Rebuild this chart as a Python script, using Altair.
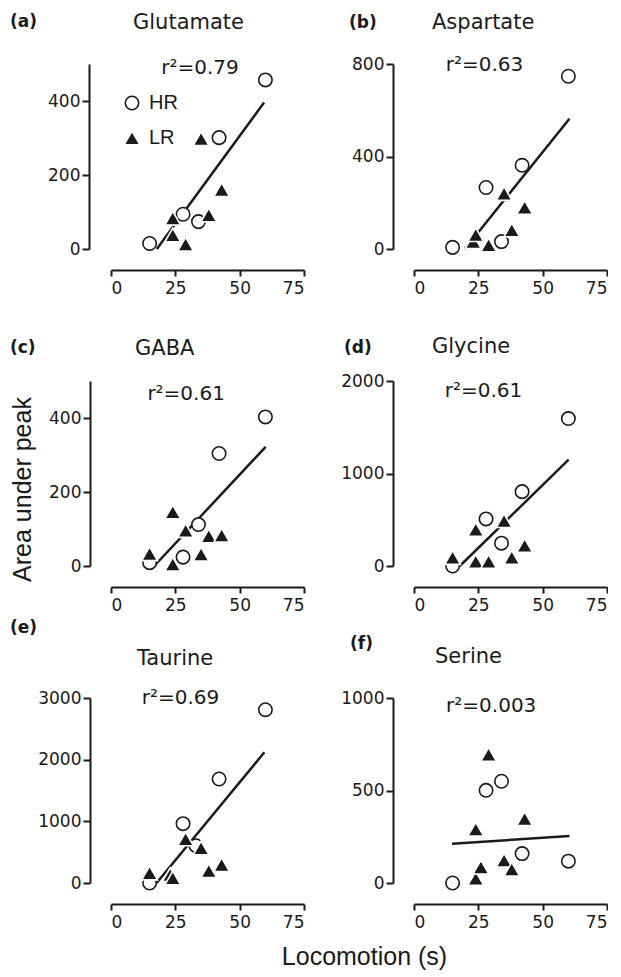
import altair as alt
import pandas as pd

# ---------------- data ----------------
names = ["Glutamate", "Aspartate", "GABA", "Glycine", "Taurine", "Serine"]
letters = ["(a)", "(b)", "(c)", "(d)", "(e)", "(f)"]
r2_text = ["r\u00b2=0.79", "r\u00b2=0.63", "r\u00b2=0.61", "r\u00b2=0.61", "r\u00b2=0.69", "r\u00b2=0.003"]
r2_x = [34.6, 27.4, 29.2, 27.0, 27.0, 30.0]
r2_y = [473, 770, 449, 1823, 2903, 926]

x_ticks = [0, 25, 50, 75]
y_max = [500, 800, 500, 2000, 3000, 1000]
y_ticks = [[0, 200, 400], [0, 400, 800], [0, 200, 400],
           [0, 1000, 2000], [0, 1000, 2000, 3000], [0, 500, 1000]]

hr_x = [[15, 28, 34, 42, 60], [15, 28, 34, 42, 60], [15, 28, 34, 42, 60],
        [15, 28, 34, 42, 60], [15, 28, 33, 42, 60], [15, 28, 34, 42, 60]]
hr_y = [[15, 94, 74, 301, 457], [7, 266, 32, 362, 747], [9, 24, 112, 304, 403],
        [0, 509, 247, 804, 1594], [0, 962, 605, 1686, 2810], [0, 501, 550, 159, 118]]
lr_x = [[24, 24, 29, 35, 38, 43], [23, 24, 29, 35, 38, 43], [15, 24, 24, 29, 35, 38, 43],
        [15, 24, 24, 29, 35, 38, 43], [15, 23, 24, 29, 35, 38, 43], [24, 24, 26, 29, 35, 38, 43]]
lr_y = [[83, 38, 13, 298, 92, 160], [32, 62, 17, 240, 82, 180], [33, 146, 5, 96, 32, 81, 83],
        [92, 395, 48, 48, 490, 92, 221], [162, 135, 81, 714, 568, 200, 297],
        [291, 25, 86, 695, 123, 74, 347]]

fit_x = [[17.8, 59.5], [19.8, 60.4], [16.8, 60.1], [17.8, 60.1], [17.7, 59.6], [14.8, 60.4]]
fit_y = [[0, 396], [0, 563], [0, 322], [0, 1151], [0, 2119], [212, 254]]

groups = ["HR", "LR"]

# ---------------- layout / style (not data) ----------------
INK = "#1a1a1a"
W, H = 193, 185
name_pos = [(22, -35), (18, -35), (24, -26), (18, -28), (26, -33), (21, -35)]
lab_pos = [(-101, -37), (-65, -36), (-101, -28), (-70, -28), (-101, -65), (-64, -49)]
y_off = [22, 21, 21, 21, 21, 21]
x_off = [21, 21, 21, 21, 21, 21]


def panel(i):
    pts = pd.DataFrame({
        "x": hr_x[i] + lr_x[i],
        "y": hr_y[i] + lr_y[i],
        "group": ["HR"] * len(hr_x[i]) + ["LR"] * len(lr_x[i]),
    })
    fit = pd.DataFrame({"x": fit_x[i], "y": fit_y[i]})
    r2 = pd.DataFrame({"x": [r2_x[i]], "y": [r2_y[i]], "t": [r2_text[i]]})
    head = pd.DataFrame({"lab": [letters[i]], "name": [names[i]]})

    common = dict(domainColor=INK, domainWidth=2, tickColor=INK, tickWidth=2, grid=False,
                  labelFont="DejaVu Sans", labelFontSize=17, labelColor=INK, format="d")
    xaxis_kw = dict(values=x_ticks, offset=x_off[i], tickSize=6, labelPadding=4, **common)
    if i == 4:
        xaxis_kw.update(title="Locomotion (s)", titleX=253, titleY=60, titleAlign="center",
                        titleBaseline="alphabetic", titleFont="Liberation Sans",
                        titleFontSize=25, titleFontWeight="normal", titleColor=INK, titleAngle=0)
    else:
        xaxis_kw.update(title=None)
    yaxis_kw = dict(values=y_ticks[i], offset=y_off[i], tickSize=7, labelPadding=2, **common)
    if i == 2:
        yaxis_kw.update(title="Area under peak", titleX=-60, titleY=108, titleAlign="center",
                        titleBaseline="alphabetic", titleFont="Liberation Sans",
                        titleFontSize=25, titleFontWeight="normal", titleColor=INK, titleAngle=270)
    else:
        yaxis_kw.update(title=None)

    xs = alt.Scale(domain=[0, 75], nice=False, zero=False)
    ys = alt.Scale(domain=[0, y_max[i]], nice=False)
    X = alt.X("x:Q", scale=xs, axis=alt.Axis(**xaxis_kw))
    Y = alt.Y("y:Q", scale=ys, axis=alt.Axis(**yaxis_kw))

    if i == 0:
        leg = alt.Legend(orient="none", legendX=11, legendY=29, title=None,
                         labelFont="Liberation Sans", labelFontSize=20, labelColor=INK,
                         labelOffset=7, rowPadding=14, padding=0, symbolStrokeWidth=1.6)
    else:
        leg = None

    points = alt.Chart(pts).mark_point(filled=True, strokeWidth=1.6, opacity=1).encode(
        x=X, y=Y,
        shape=alt.Shape("group:N", scale=alt.Scale(domain=groups, range=["circle", "triangle-up"]), legend=leg),
        fill=alt.Fill("group:N", scale=alt.Scale(domain=groups, range=["white", INK]), legend=leg),
        stroke=alt.Stroke("group:N", scale=alt.Scale(domain=groups, range=[INK, "white"]), legend=leg),
        size=alt.Size("group:N", scale=alt.Scale(domain=groups, range=[180, 250]), legend=leg),
    )
    line = alt.Chart(fit).mark_line(color=INK, strokeWidth=2.5).encode(x=X, y=Y)
    txt = alt.Chart(r2).mark_text(font="DejaVu Sans", fontSize=20, color=INK,
                                  align="center", baseline="alphabetic").encode(x=X, y=Y, text="t:N")
    label = alt.Chart(head).mark_text(font="DejaVu Sans", fontSize=17, fontWeight="bold", color=INK,
                                      align="left", baseline="alphabetic").encode(
        x=alt.value(lab_pos[i][0]), y=alt.value(lab_pos[i][1]), text="lab:N")
    name = alt.Chart(head).mark_text(font="DejaVu Sans", fontSize=21, color=INK,
                                     align="left", baseline="alphabetic").encode(
        x=alt.value(name_pos[i][0]), y=alt.value(name_pos[i][1]), text="name:N")

    return alt.layer(line, points, txt, label, name).properties(width=W, height=H)


P = [panel(i) for i in range(6)]

chart = alt.concat(*P, columns=2, spacing={"row": 132, "column": 110}, bounds="flush").resolve_scale(
    shape="independent", fill="independent", stroke="independent", size="independent"
).resolve_legend(
    shape="independent", fill="independent", stroke="independent", size="independent"
).properties(
    padding={"left": 2, "top": 4, "right": 0, "bottom": 5}, background="white"
).configure_view(stroke=None)

chart.save("out.html", embed_options={"renderer": "svg", "actions": False})
